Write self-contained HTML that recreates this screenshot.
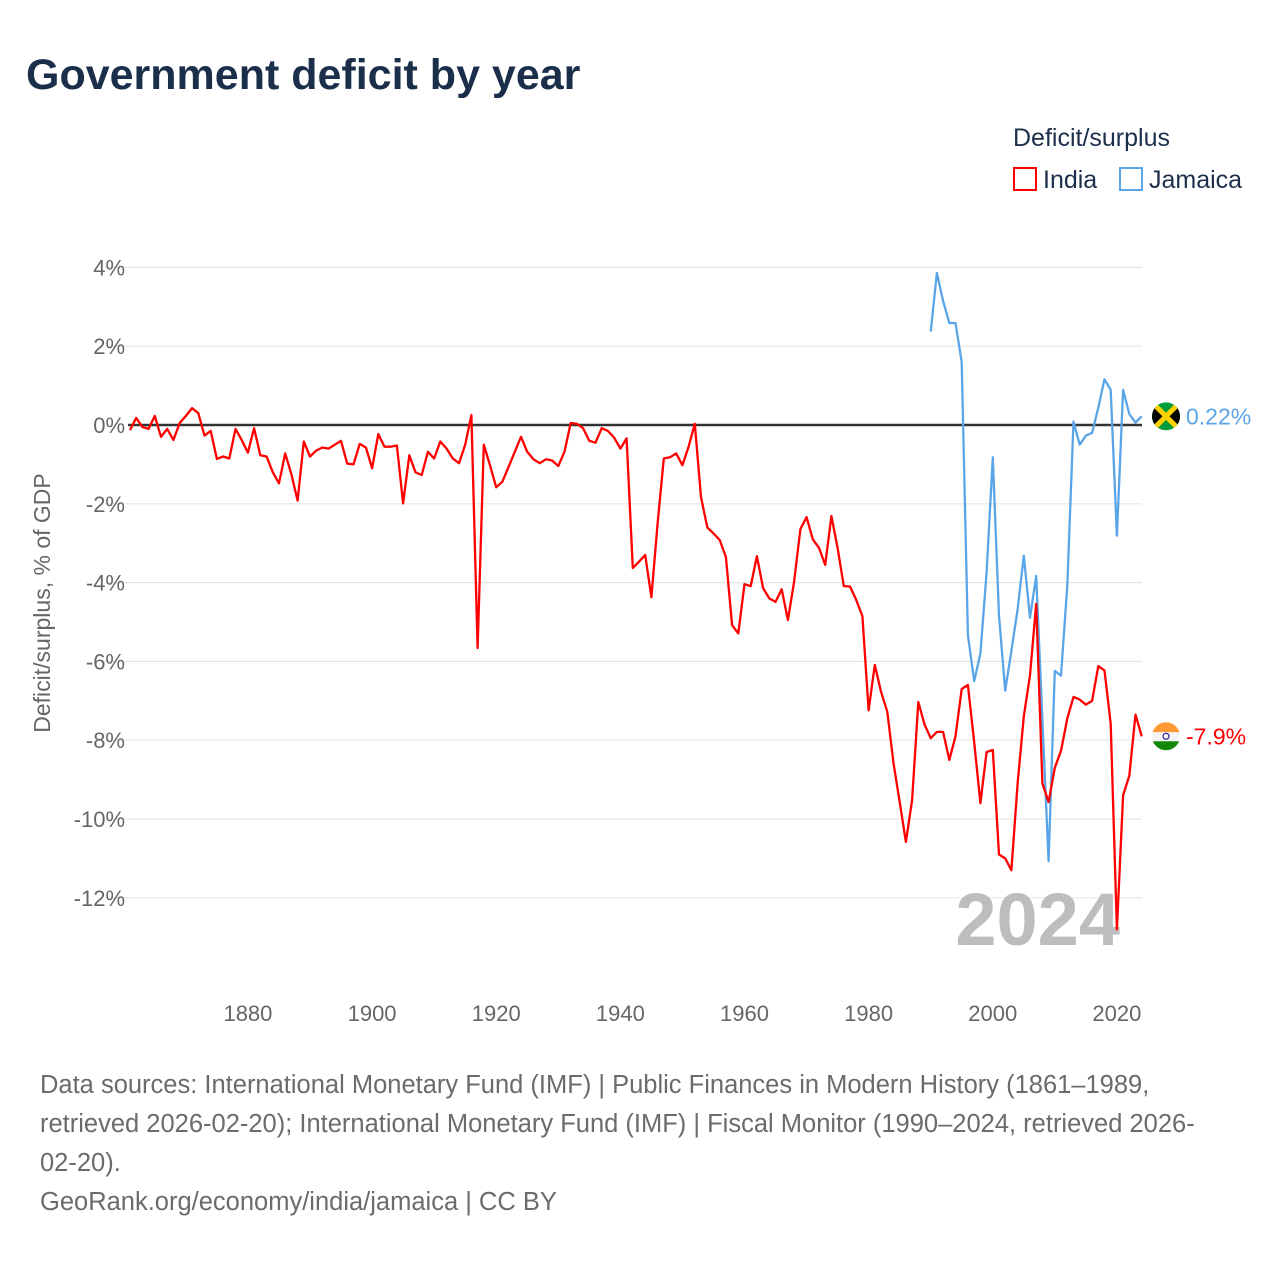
<!DOCTYPE html>
<html><head><meta charset="utf-8"><style>
body{margin:0;background:#fff;font-family:"Liberation Sans",sans-serif;}
#wrap{position:relative;width:1280px;height:1280px;overflow:hidden;}
.t{position:absolute;white-space:nowrap;}
</style></head><body>
<div id="wrap">
<div class="t" style="left:26px;top:51px;font-size:43px;font-weight:bold;color:#1b2f4b;">Government deficit by year</div>
<div class="t" style="left:1013px;top:124px;font-size:25px;color:#1b2f4b;">Deficit/surplus</div>
<div class="t" style="left:1013px;top:166px;font-size:25px;color:#1b2f4b;"><span style="display:inline-block;width:20px;height:20px;border:2px solid #ff0000;vertical-align:-3px;margin-right:6px;"></span>India</div>
<div class="t" style="left:1119px;top:166px;font-size:25px;color:#1b2f4b;"><span style="display:inline-block;width:20px;height:20px;border:2px solid #5aa5e8;vertical-align:-3px;margin-right:6px;"></span>Jamaica</div>
<svg id="chart" width="1280" height="1280" style="position:absolute;left:0;top:0;"></svg>
<div class="t" style="left:40px;top:1066px;font-size:25.5px;line-height:39px;color:#6b6b6b;">Data sources: International Monetary Fund (IMF) | Public Finances in Modern History (1861–1989,<br>retrieved 2026-02-20); International Monetary Fund (IMF) | Fiscal Monitor (1990–2024, retrieved 2026-<br>02-20).<br>GeoRank.org/economy/india/jamaica | CC BY</div>
</div>
<script>
const indiaStart = 1861;
const indiaValues = [-0.13,0.18,-0.05,-0.1,0.23,-0.3,-0.1,-0.38,0.05,0.23,0.43,0.3,-0.27,-0.15,-0.86,-0.8,-0.85,-0.1,-0.38,-0.7,-0.08,-0.77,-0.8,-1.2,-1.48,-0.72,-1.25,-1.92,-0.42,-0.8,-0.65,-0.57,-0.6,-0.5,-0.4,-0.98,-1.0,-0.48,-0.57,-1.1,-0.23,-0.55,-0.55,-0.52,-1.99,-0.77,-1.2,-1.27,-0.68,-0.85,-0.42,-0.6,-0.85,-0.97,-0.5,0.25,-5.66,-0.5,-1.02,-1.58,-1.44,-1.06,-0.68,-0.3,-0.68,-0.87,-0.97,-0.87,-0.9,-1.04,-0.68,0.05,0.03,-0.08,-0.4,-0.45,-0.08,-0.15,-0.32,-0.6,-0.34,-3.63,-3.47,-3.3,-4.37,-2.5,-0.85,-0.82,-0.72,-1.02,-0.55,0.03,-1.83,-2.6,-2.75,-2.92,-3.35,-5.08,-5.29,-4.04,-4.09,-3.33,-4.14,-4.4,-4.49,-4.17,-4.95,-3.98,-2.64,-2.34,-2.9,-3.12,-3.55,-2.31,-3.12,-4.09,-4.1,-4.44,-4.85,-7.24,-6.09,-6.77,-7.28,-8.58,-9.57,-10.58,-9.52,-7.03,-7.6,-7.95,-7.79,-7.79,-8.5,-7.9,-6.7,-6.6,-8.05,-9.6,-8.3,-8.25,-10.9,-11.0,-11.3,-9.1,-7.4,-6.35,-4.54,-9.1,-9.57,-8.7,-8.27,-7.45,-6.9,-6.97,-7.1,-7.0,-6.12,-6.23,-7.58,-12.8,-9.4,-8.9,-7.35,-7.9];
const jamaicaStart = 1990;
const jamaicaValues = [2.37,3.86,3.15,2.59,2.59,1.6,-5.33,-6.5,-5.8,-3.74,-0.82,-4.84,-6.74,-5.73,-4.68,-3.32,-4.89,-3.83,-7.49,-11.07,-6.24,-6.36,-4.07,0.09,-0.5,-0.27,-0.2,0.44,1.16,0.89,-2.81,0.89,0.28,0.06,0.22];
const yTicks = [4,2,0,-2,-4,-6,-8,-10,-12];
const xTicks = [1880,1900,1920,1940,1960,1980,2000,2020];

const NS="http://www.w3.org/2000/svg";
const svg=document.getElementById('chart');
const xS=y=>130+(y-1861)*6.207;
const yS=v=>425-v*39.4;
function mk(tag,attrs,parent){const e=document.createElementNS(NS,tag);for(const k in attrs)e.setAttribute(k,attrs[k]);(parent||svg).appendChild(e);return e;}
yTicks.forEach(v=>{
  const l=mk('line',{x1:v===0?128:105,x2:1142,y1:yS(v),y2:yS(v),stroke:v===0?'#333':'#e6e6e6','stroke-width':v===0?2.5:1.2});
  
  
  const t=mk('text',{x:125,y:yS(v)+8,'text-anchor':'end','font-size':22,fill:'#666','font-family':'Liberation Sans, sans-serif'});
  t.textContent=v+'%';
  
  
});
xTicks.forEach(y=>{
  const t=mk('text',{x:xS(y),y:1021,'text-anchor':'middle','font-size':22,fill:'#666','font-family':'Liberation Sans, sans-serif'});
  t.textContent=y;
  
  
});
const yt=mk('text',{x:0,y:0,transform:'translate(50,603) rotate(-90)','text-anchor':'middle','font-size':23,fill:'#666','font-family':'Liberation Sans, sans-serif'});
yt.textContent='Deficit/surplus, % of GDP';


const yr=mk('text',{x:1120,y:945,'text-anchor':'end','font-size':74,'font-weight':'bold',fill:'#bdbdbd','font-family':'Liberation Sans, sans-serif'});
yr.textContent='2024';


function flag(name,cy){
  const g=mk('g',{});
  
  
  const cid='clip-'+name;
  const cp=mk('clipPath',{id:cid},g);
  mk('circle',{cx:1166,cy:cy,r:14},cp);
  const inner=mk('g',{'clip-path':'url(#'+cid+')'},g);
  if(name==='india'){
    mk('rect',{x:1152,y:cy-14,width:28,height:10,fill:'#ff9933'},inner);
    mk('rect',{x:1152,y:cy-4,width:28,height:9,fill:'#f5f5f5'},inner);
    mk('rect',{x:1152,y:cy+5,width:28,height:10,fill:'#138808'},inner);
    mk('circle',{cx:1166,cy:cy,r:3,fill:'none',stroke:'#000080','stroke-width':1},inner);
  } else {
    mk('rect',{x:1152,y:cy-14,width:28,height:28,fill:'#009b3a'},inner);
    mk('polygon',{points:`1152,${cy-14} 1166,${cy} 1152,${cy+14}`,fill:'#000'},inner);
    mk('polygon',{points:`1180,${cy-14} 1166,${cy} 1180,${cy+14}`,fill:'#000'},inner);
    mk('line',{x1:1152,y1:cy-14,x2:1180,y2:cy+14,stroke:'#fed100','stroke-width':5},inner);
    mk('line',{x1:1180,y1:cy-14,x2:1152,y2:cy+14,stroke:'#fed100','stroke-width':5},inner);
  }
}
function series(vals,start,color,name){
  const pts=vals.map((v,i)=>xS(start+i).toFixed(1)+','+yS(v).toFixed(1)).join(' ');
  const p=mk('polyline',{points:pts,fill:'none',stroke:color,'stroke-width':2.3,'stroke-linejoin':'round'});
  
  
  const lv=vals[vals.length-1];
  const ly=yS(lv);
  flag(name,ly);
  const lab=mk('text',{x:1186,y:ly+8,'font-size':23,fill:color,'font-family':'Liberation Sans, sans-serif'});
  lab.textContent=(name==='india'?lv.toFixed(1):lv.toFixed(2))+'%';
  
  
}
series(jamaicaValues,jamaicaStart,'#5aa5e8','jamaica');
series(indiaValues,indiaStart,'#ff0000','india');
</script>
</body></html>
